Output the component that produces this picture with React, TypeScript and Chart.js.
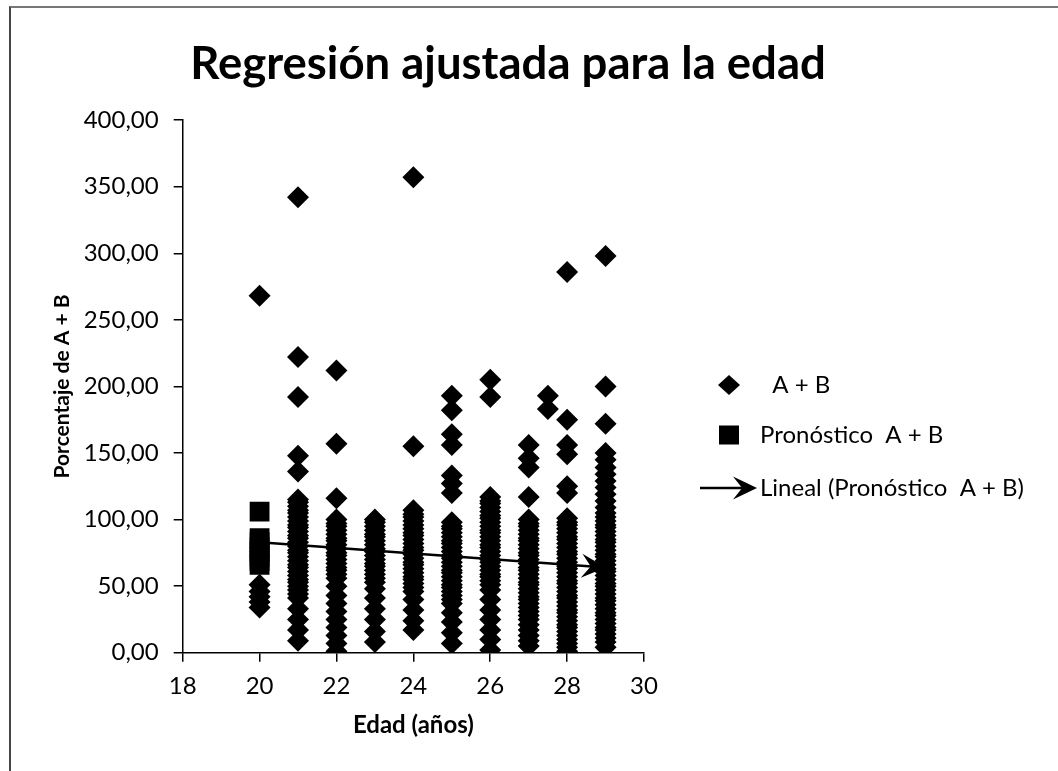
import React, { useEffect, useRef } from 'react';
import { Chart, registerables } from 'chart.js';

Chart.register(...registerables);

// ---- Text ----
const chartTitle = 'Regresión ajustada para la edad';
const xAxisTitle = 'Edad (años)';
const yAxisTitle = 'Porcentaje de A + B';
const seriesLabels = ['  A + B', 'Pronóstico  A + B', 'Lineal (Pronóstico  A + B)'];

// ---- Axis ranges / ticks ----
const xMin = 18;
const xMax = 30;
const xStep = 2;
const yMin = 0;
const yMax = 400;
const yStep = 50;

// ---- Series "A + B": values read per age ----
const ages = [20, 21, 22, 23, 24, 25, 26, 27, 27.5, 28, 29];
const v20 = [268, 51, 46, 42, 38, 34];
const v21 = [342, 222, 192, 148, 136, 115, 113, 110, 107, 105, 102, 99, 96, 94, 91, 88, 86, 83, 80, 77, 75, 72, 69, 66, 64, 61, 58, 55, 53, 50, 47, 44, 41, 33, 25, 17, 9];
const v22 = [212, 157, 116, 100, 97, 95, 92, 89, 86, 84, 81, 78, 75, 73, 70, 67, 64, 62, 59, 56, 50, 43, 37, 31, 25, 19, 13, 7, 1];
const v23 = [100, 98, 95, 92, 89, 87, 84, 81, 78, 76, 73, 70, 67, 65, 62, 59, 56, 53, 48, 41, 33, 25, 16, 8];
const v24 = [357, 155, 107, 104, 102, 99, 96, 93, 90, 88, 85, 82, 79, 77, 74, 71, 68, 66, 63, 60, 57, 55, 52, 49, 46, 40, 32, 24, 17];
const v25 = [193, 182, 164, 156, 133, 127, 120, 98, 95, 93, 90, 87, 84, 82, 79, 76, 73, 71, 68, 65, 62, 60, 57, 54, 51, 49, 46, 43, 40, 37, 30, 23, 15, 7];
const v26 = [205, 192, 117, 114, 112, 109, 106, 103, 101, 98, 95, 92, 90, 87, 84, 81, 79, 76, 73, 70, 68, 65, 62, 59, 57, 54, 51, 47, 40, 32, 25, 17, 10, 2];
const v27 = [156, 146, 139, 117, 100, 97, 95, 92, 89, 86, 84, 81, 78, 75, 73, 70, 67, 64, 62, 59, 56, 53, 51, 48, 45, 42, 40, 37, 34, 31, 28, 25, 21, 17, 13, 9, 5];
const v27h = [193, 183];
const v28 = [286, 175, 156, 149, 125, 120, 101, 98, 96, 93, 90, 87, 85, 82, 79, 76, 74, 71, 68, 65, 63, 60, 57, 54, 52, 49, 46, 43, 41, 38, 35, 32, 30, 27, 24, 21, 19, 16, 13, 10, 7, 4, 1];
const v29 = [298, 200, 172, 150, 145, 139, 134, 129, 124, 119, 114, 109, 105, 102, 99, 96, 94, 91, 88, 85, 83, 80, 77, 74, 72, 69, 66, 63, 61, 58, 55, 52, 50, 47, 44, 41, 39, 36, 33, 30, 28, 25, 22, 19, 17, 14, 11, 8, 4];
const valuesByAge = [v20, v21, v22, v23, v24, v25, v26, v27, v27h, v28, v29];

// ---- Series "Pronóstico A + B" ----
const forecastAges = [20, 20, 20, 20, 20, 20, 20, 20];
const forecastValues = [106, 86, 83, 79, 76, 72, 69, 66];

// ---- Linear trend of the forecast ----
const trendX = [20, 29];
const trendY = [83, 64];

// ---- Layout constants (pixels) ----
const W = 1058;
const H = 771;
const FONT = 'Lato';
const legendSymbolX = 729;
const legendTextX = 760;
const legendRowY = [385, 435, 488];

function arrowHead(ctx: CanvasRenderingContext2D, x: number, y: number, ang: number, len: number, half: number) {
  ctx.save();
  ctx.translate(x, y);
  ctx.rotate(ang);
  ctx.beginPath();
  ctx.moveTo(0, 0);
  ctx.lineTo(-len, -half);
  ctx.lineTo(-len * 0.62, 0);
  ctx.lineTo(-len, half);
  ctx.closePath();
  ctx.fillStyle = '#000';
  ctx.fill();
  ctx.restore();
}

const trendArrowPlugin = {
  id: 'trendArrow',
  afterDatasetDraw(chart: any, args: any) {
    if (args.index !== 2) return;
    const pts = args.meta.data;
    if (!pts || pts.length < 2) return;
    const p1 = pts[pts.length - 2];
    const p2 = pts[pts.length - 1];
    const ang = Math.atan2(p2.y - p1.y, p2.x - p1.x);
    const ctx = chart.ctx;
    ctx.save();
    const area = chart.chartArea;
    ctx.beginPath();
    ctx.rect(area.left, area.top, area.right - area.left, area.bottom - area.top);
    ctx.clip();
    arrowHead(ctx, p2.x, p2.y, ang, 24, 12);
    ctx.restore();
  },
};

const sideLegendPlugin = {
  id: 'sideLegend',
  afterDraw(chart: any) {
    const ctx: CanvasRenderingContext2D = chart.ctx;
    const labels = chart.data.datasets.map((d: any) => d.label);
    ctx.save();
    ctx.fillStyle = '#000';
    ctx.strokeStyle = '#000';
    // diamond
    const y0 = legendRowY[0];
    ctx.beginPath();
    ctx.moveTo(legendSymbolX - 11, y0);
    ctx.lineTo(legendSymbolX, y0 - 10);
    ctx.lineTo(legendSymbolX + 11, y0);
    ctx.lineTo(legendSymbolX, y0 + 10);
    ctx.closePath();
    ctx.fill();
    // square
    const y1 = legendRowY[1];
    ctx.fillRect(legendSymbolX - 10, y1 - 9.5, 20, 19);
    // arrow
    const y2 = legendRowY[2];
    ctx.lineWidth = 2.5;
    ctx.beginPath();
    ctx.moveTo(legendSymbolX - 29, y2);
    ctx.lineTo(legendSymbolX + 14, y2);
    ctx.stroke();
    arrowHead(ctx, legendSymbolX + 28, y2, 0, 24, 11.5);
    // text
    ctx.font = `24px ${FONT}`;
    ctx.textBaseline = 'middle';
    ctx.textAlign = 'left';
    labels.forEach((t: string, i: number) => {
      ctx.fillText(t, legendTextX, legendRowY[i]);
    });
    ctx.restore();
  },
};

const fmt = (v: number) => v.toFixed(2).replace('.', ',');

export default function App() {
  const ref = useRef<HTMLCanvasElement | null>(null);

  useEffect(() => {
    if (!ref.current) return;
    const scatterData = ages.flatMap((a, i) => valuesByAge[i].map((v) => ({ x: a, y: v })));
    const forecastData = forecastAges.map((a, i) => ({ x: a, y: forecastValues[i] }));
    const trendData = trendX.map((a, i) => ({ x: a, y: trendY[i] }));

    const chart = new Chart(ref.current, {
      type: 'scatter',
      data: {
        datasets: [
          {
            label: seriesLabels[0],
            data: scatterData,
            pointStyle: 'rectRot',
            pointRadius: 11,
            pointHoverRadius: 11,
            backgroundColor: '#000',
            borderColor: '#000',
            borderWidth: 0,
            order: 1,
          },
          {
            label: seriesLabels[1],
            data: forecastData,
            pointStyle: 'rect',
            pointRadius: 14,
            pointHoverRadius: 14,
            backgroundColor: '#000',
            borderColor: '#000',
            borderWidth: 0,
            order: 0,
          },
          {
            type: 'line',
            label: seriesLabels[2],
            data: trendData,
            showLine: true,
            borderColor: '#000',
            borderWidth: 2.5,
            pointRadius: 0,
            fill: false,
            order: 2,
          } as any,
        ],
      },
      options: {
        responsive: false,
        maintainAspectRatio: false,
        animation: false,
        devicePixelRatio: 1,
        layout: { padding: { left: 40, right: 82, top: 0, bottom: 0 } },
        plugins: {
          legend: { display: false },
          tooltip: { enabled: false },
          title: {
            display: true,
            text: chartTitle,
            color: '#000',
            font: { family: FONT, size: 45.5, weight: 'bold' },
            padding: { top: 37.5, bottom: 28 },
          },
        },
        scales: {
          x: {
            type: 'linear',
            position: 'bottom',
            min: xMin,
            max: xMax,
            ticks: {
              stepSize: xStep,
              color: '#000',
              font: { family: FONT, size: 24 },
              padding: 10,
              maxRotation: 0,
            },
            grid: { display: true, drawOnChartArea: false, drawTicks: true, tickLength: 9, color: '#000', lineWidth: 1.5 },
            border: { display: true, color: '#000', width: 1.5 },
            title: {
              display: true,
              text: xAxisTitle,
              color: '#000',
              font: { family: FONT, size: 24, weight: 'bold' },
              padding: { top: 0, bottom: 31 },
            },
            afterFit: (s: any) => {
              s.height = H - 652.7;
            },
          },
          y: {
            type: 'linear',
            position: 'left',
            min: yMin,
            max: yMax,
            ticks: {
              stepSize: yStep,
              color: '#000',
              font: { family: FONT, size: 24 },
              padding: 15,
              callback: (v: any) => fmt(Number(v)),
            },
            grid: { display: true, drawOnChartArea: false, drawTicks: true, tickLength: 9, color: '#000', lineWidth: 1.5 },
            border: { display: true, color: '#000', width: 1.5 },
            title: {
              display: true,
              text: yAxisTitle,
              color: '#000',
              font: { family: FONT, size: 21, weight: 'bold' },
              padding: { top: 10, bottom: 0 },
            },
            afterFit: (s: any) => {
              s.width = 182.7 - 40;
            },
          },
          yRight: {
            type: 'linear',
            position: 'right',
            display: true,
            min: yMin,
            max: yMax,
            ticks: { display: false },
            grid: { display: false },
            border: { display: false },
            afterFit: (s: any) => {
              s.width = W - 82 - 644;
            },
          },
        },
      },
      plugins: [trendArrowPlugin, sideLegendPlugin],
    } as any);

    return () => {
      chart.destroy();
    };
  }, []);

  return (
    <div style={{ position: 'fixed', left: 0, top: 0, width: W, height: H, background: '#fff', overflow: 'hidden' }}>
      <div
        style={{
          position: 'absolute',
          left: 9,
          top: 6,
          width: W,
          height: H,
          borderLeft: '2px solid #444',
          borderTop: '2px solid #777',
        }}
      />
      <canvas ref={ref} width={W} height={H} style={{ position: 'absolute', left: 0, top: 0, width: W, height: H }} />
    </div>
  );
}
